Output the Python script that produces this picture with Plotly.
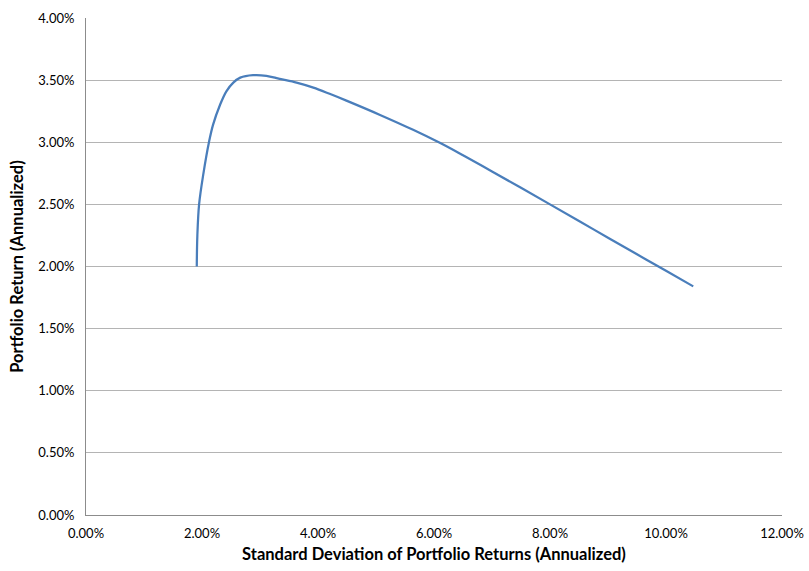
import plotly.graph_objects as go

# Efficient-frontier style curve: risk (x) vs. return (y), in percent
std_dev = [1.91, 1.92, 1.95, 2.025, 2.12, 2.19, 2.31, 2.42, 2.54, 2.66, 2.88,
           3.11, 3.34, 3.63, 3.92, 4.20, 4.49, 5.07, 5.64, 6.10, 6.50, 7.00,
           7.50, 8.00, 8.50, 9.00, 9.50, 10.00, 10.47]
port_ret = [2.00, 2.25, 2.50, 2.75, 3.00, 3.14, 3.30, 3.41, 3.48, 3.52, 3.54,
            3.535, 3.51, 3.48, 3.44, 3.39, 3.335, 3.22, 3.10, 2.995, 2.895, 2.765,
            2.633, 2.50, 2.366, 2.232, 2.098, 1.965, 1.84]

x_ticks = [0, 2, 4, 6, 8, 10, 12]
y_ticks = [0, 0.5, 1.0, 1.5, 2.0, 2.5, 3.0, 3.5, 4.0]

font_family = "Lato, 'Open Sans', sans-serif"

fig = go.Figure()
fig.add_trace(go.Scatter(
    x=[v / 100 for v in std_dev],
    y=[v / 100 for v in port_ret],
    mode="lines",
    line=dict(color="#4A7EBB", width=2.25, shape="spline", smoothing=1.0),
    hoverinfo="skip",
    showlegend=False,
))

fig.update_layout(
    width=809, height=571,
    margin=dict(l=86, r=27, t=18, b=56),
    paper_bgcolor="white",
    plot_bgcolor="white",
    font=dict(family=font_family, size=13, color="#000000"),
    xaxis=dict(
        range=[0, 0.12],
        tickvals=[v / 100 for v in x_ticks],
        ticktext=[f"{v:.2f}%" for v in x_ticks],
        showgrid=False,
        zeroline=False,
        showline=True, linecolor="#8C8C8C", linewidth=1,
        ticks="", ticklabelstandoff=6,
        automargin=False,
        title=dict(text="<b>Standard Deviation of Portfolio Returns (Annualized)</b>",
                   font=dict(size=16.5), standoff=8),
    ),
    yaxis=dict(
        range=[0, 0.04],
        tickvals=[v / 100 for v in y_ticks],
        ticktext=[f"{v:.2f}%" for v in y_ticks],
        showgrid=True, gridcolor="#B4B4B4", gridwidth=1,
        zeroline=False,
        showline=True, linecolor="#8C8C8C", linewidth=1,
        ticks="", ticklabelstandoff=8,
        automargin=False,
        title=dict(text="<b>Portfolio Return (Annualized)</b>",
                   font=dict(size=16.5), standoff=10),
    ),
)

fig.write_html("out.html")
